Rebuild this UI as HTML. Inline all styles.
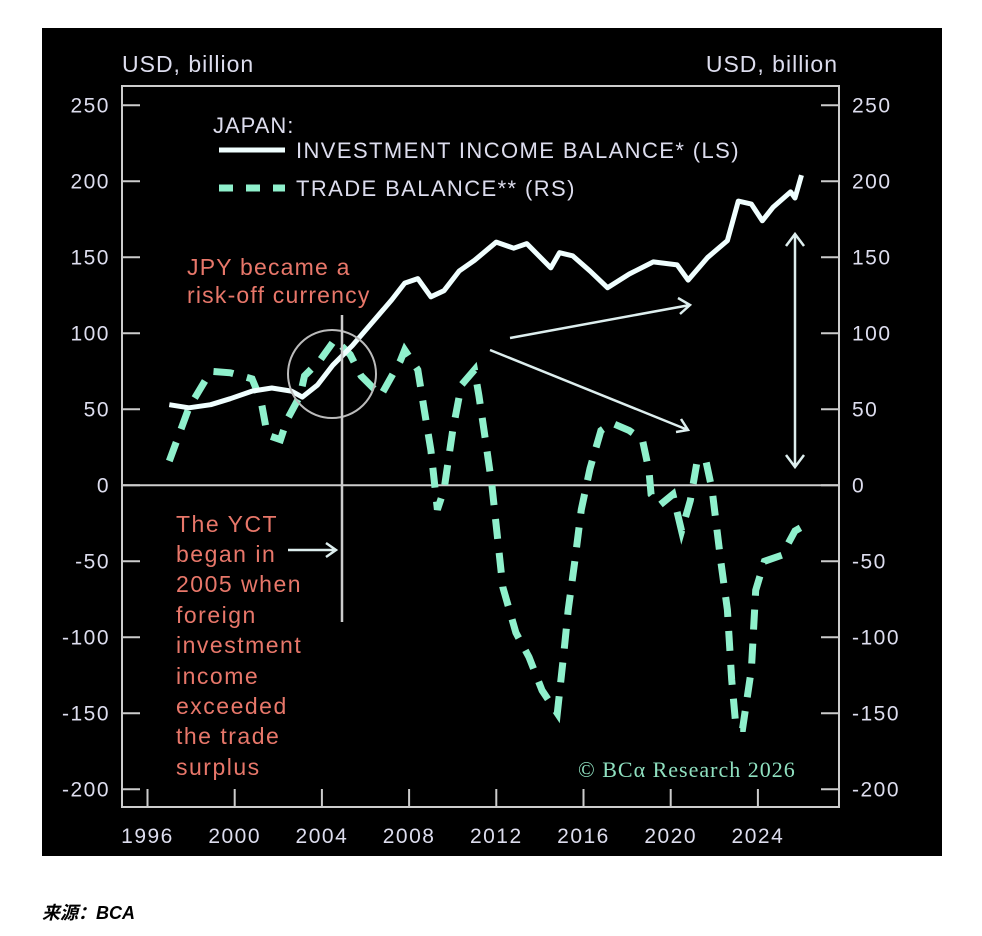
<!DOCTYPE html>
<html><head><meta charset="utf-8"><style>
body{margin:0;background:#fff;width:982px;height:936px;overflow:hidden}
svg{position:absolute;left:0;top:0}
text{font-family:"Liberation Sans","DejaVu Sans",sans-serif}
</style></head><body>
<svg width="982" height="936">
<rect x="42" y="28" width="900" height="828" fill="#000"/>
<g id="axes"></g><g id="series"></g>
<g>
<circle cx="332" cy="374" r="44" fill="none" stroke="#bbb" stroke-width="2"/>
<line x1="342" y1="315" x2="342" y2="622" stroke="#ccc" stroke-width="2.5"/>
<g stroke="#ddeeee" stroke-width="2.5" fill="none">
<path d="M288 550 L336 550 M326 543 L336 550 L326 557"/>
<path d="M510 338 L690 305 M678 298 L690 305 L680 314"/>
<path d="M490 350 L688 430 M676 432 L688 430 L681 419"/>
<path d="M795 234 L795 467 M786 246 L795 234 L804 246 M786 455 L795 467 L804 455"/>
</g>
<g fill="#e8776a" font-size="23" letter-spacing="1.2">
<text x="187" y="275">JPY became a</text>
<text x="187" y="303">risk-off currency</text>
</g>
<g fill="#e8776a" font-size="23" letter-spacing="1.5">
<text x="176" y="532">The YCT</text><text x="176" y="562">began in</text><text x="176" y="592">2005 when</text><text x="176" y="623">foreign</text><text x="176" y="653">investment</text><text x="176" y="684">income</text><text x="176" y="714">exceeded</text><text x="176" y="744">the trade</text><text x="176" y="775">surplus</text>
</g>
<text x="578" y="777" fill="#8fe0c0" font-size="22" letter-spacing="1" style="font-family:'Liberation Serif',serif">© BCα Research 2026</text>
</g>
<g>
<text x="213" y="133" fill="#dde" font-size="22" letter-spacing="1">JAPAN:</text>
<line x1="219" y1="150" x2="285" y2="150" stroke="#f0ffff" stroke-width="5"/>
<text x="296" y="158" fill="#dde" font-size="22" letter-spacing="1.4">INVESTMENT INCOME BALANCE* (LS)</text>
<line x1="219" y1="188" x2="285" y2="188" stroke="#8ff0cc" stroke-width="7" stroke-dasharray="14,13"/>
<text x="296" y="196" fill="#dde" font-size="22" letter-spacing="1.4">TRADE BALANCE** (RS)</text>
</g>
<text x="122" y="72" fill="#dde" font-size="23" letter-spacing="1">USD, billion</text>
<text x="838" y="72" fill="#dde" font-size="23" letter-spacing="1" text-anchor="end">USD, billion</text>
<text x="42" y="919" fill="#000" font-size="18" font-weight="bold" font-style="italic" style="font-family:'Liberation Sans','Noto Sans CJK SC',sans-serif">来源：BCA</text>
</svg>
<script>
const yTicks=[250,200,150,100,50,0,-50,-100,-150,-200];
const xTicks=[1996,2000,2004,2008,2012,2016,2020,2024];
const incomeYears=[1997,1997.9,1998.9,1999.8,2000.8,2001.7,2002.6,2003.1,2003.8,2004.5,2005.4,2006.3,2007.2,2007.8,2008.4,2009,2009.6,2010.3,2011,2012,2012.8,2013.4,2014.5,2014.9,2015.5,2016.3,2017.1,2018.1,2019.2,2020.3,2020.8,2021.7,2022.6,2023.1,2023.7,2024.2,2024.7,2025.5,2025.7,2026];
const incomeValues=[53,51,53,57,62,64,62,58,66,79,92,107,122,133,136,124,128,141,148,160,156,159,143,153,151,141,130,139,147,145,135,150,161,187,185,174,183,193,189,204];
const tradeYears=[1997,1997.9,1998.9,1999.8,2000.8,2001.2,2001.5,2002.1,2002.4,2003,2003.2,2003.9,2004.6,2005.3,2005.8,2006.7,2007.6,2007.8,2008.4,2008.7,2009,2009.3,2009.6,2010,2010.4,2011,2011.2,2011.5,2011.8,2012.3,2012.9,2013.5,2014.1,2014.8,2015.1,2015.3,2015.6,2015.9,2016.3,2016.8,2017.3,2018.1,2018.7,2019,2019.1,2019.5,2020.1,2020.5,2020.9,2021.2,2021.6,2021.9,2022.3,2022.6,2022.8,2023,2023.3,2023.7,2023.9,2024.3,2025.1,2025.7,2026.2];
const tradeValues=[16,51,75,74,70,56,33,30,43,59,72,82,96,86,72,59,82,89,76,49,23,-16,-3,36,66,76,59,30,0,-67,-97,-113,-135,-150,-110,-82,-50,-16,11,36,41,36,30,10,-6,-13,-6,-30,-10,15,17,-3,-50,-82,-128,-160,-160,-121,-69,-50,-46,-30,-26];
const L=122,R=839,T=86,B=807;
const xS=y=>147.5+(y-1996)*21.8;
const yS=v=>485.3-v*1.52;
const NS='http://www.w3.org/2000/svg';
function mk(t,a,p){const e=document.createElementNS(NS,t);for(const k in a)e.setAttribute(k,a[k]);p.appendChild(e);return e;}
const ax=document.getElementById('axes');
const fr=mk('rect',{x:L,y:T,width:R-L,height:B-T,fill:'none',stroke:'#ccc','stroke-width':2},ax);


const z=mk('line',{x1:L,x2:R,y1:yS(0),y2:yS(0),stroke:'#ccc','stroke-width':2},ax);


yTicks.forEach(v=>{
 const y=yS(v);
 mk('line',{x1:L,x2:L+18,y1:y,y2:y,stroke:'#ccc','stroke-width':2},ax);
 mk('line',{x1:R-18,x2:R,y1:y,y2:y,stroke:'#ccc','stroke-width':2},ax);
 const a=mk('text',{x:110,y:y+7,fill:'#dde','font-size':21,'letter-spacing':1.5,'text-anchor':'end'},ax);a.textContent=v;
 
 
 const b=mk('text',{x:852,y:y+7,fill:'#dde','font-size':21,'letter-spacing':1.5},ax);b.textContent=v;
 
 
});
xTicks.forEach(v=>{
 const x=xS(v);
 mk('line',{x1:x,x2:x,y1:B,y2:B-18,stroke:'#ccc','stroke-width':2},ax);
 const t=mk('text',{x:x,y:843,fill:'#dde','font-size':21,'letter-spacing':1.5,'text-anchor':'middle'},ax);t.textContent=v;
 
 
});
const se=document.getElementById('series');
const pts=(xs,vs)=>xs.map((y,i)=>xS(y).toFixed(1)+','+yS(vs[i]).toFixed(1)).join(' ');
const tr=mk('polyline',{points:pts(tradeYears,tradeValues),fill:'none',stroke:'#8ff0cc','stroke-width':7,'stroke-dasharray':'20,14'},se);


const inc=mk('polyline',{points:pts(incomeYears,incomeValues),fill:'none',stroke:'#f0ffff','stroke-width':5,'stroke-linejoin':'round'},se);


</script>
</body></html>
